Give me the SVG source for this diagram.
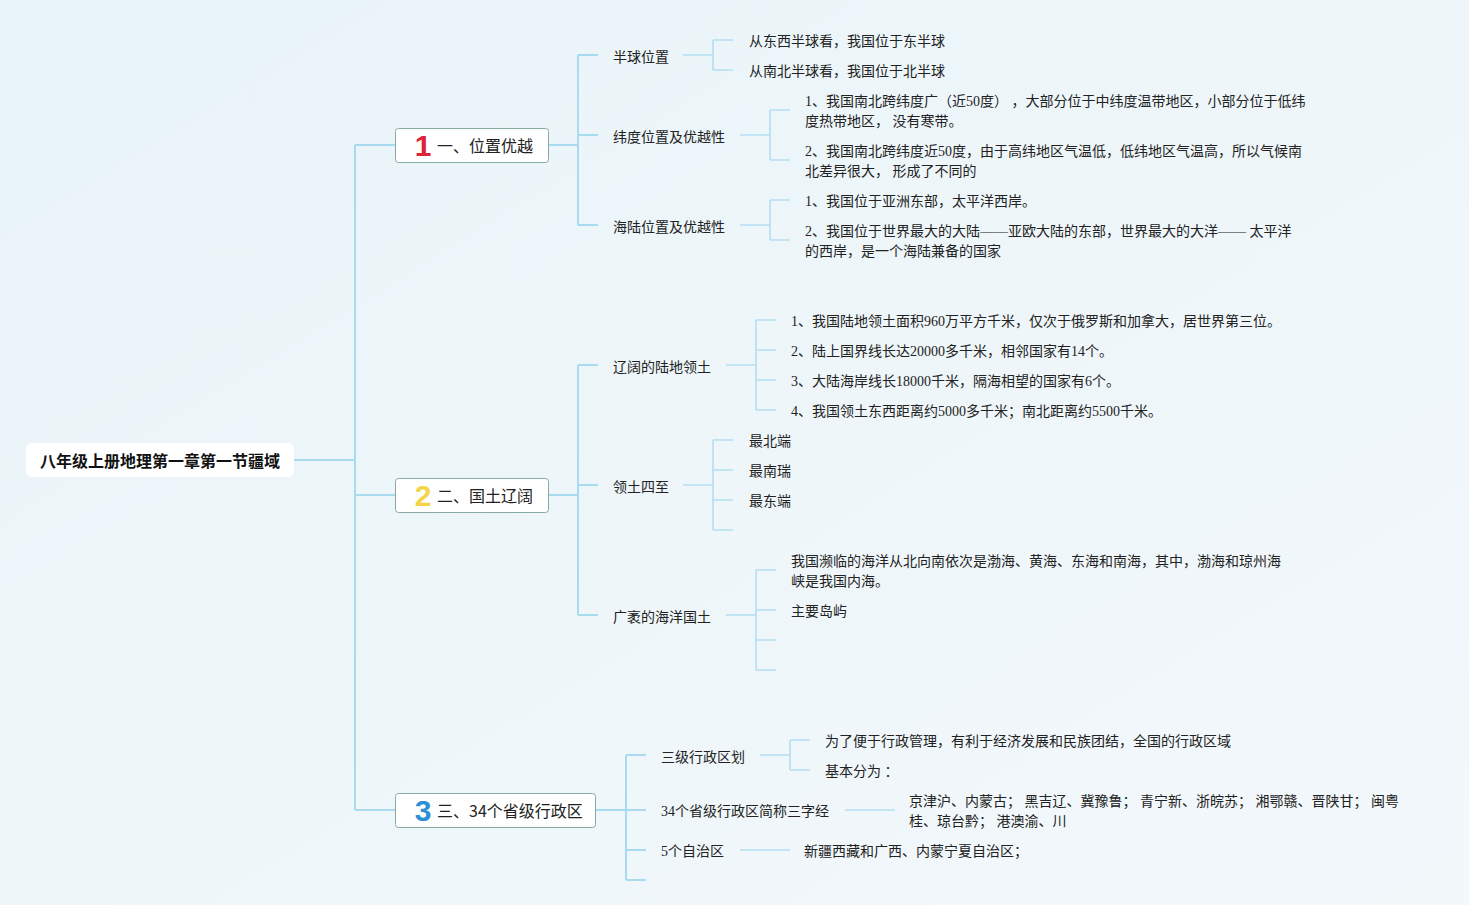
<svg xmlns="http://www.w3.org/2000/svg" width="1469" height="905" viewBox="0 0 1469 905">
<defs>
<linearGradient id="bg" x1="0" y1="0" x2="1" y2="1">
<stop offset="0" stop-color="#e9f4f8"/>
<stop offset="1" stop-color="#f3f8fb"/>
</linearGradient>
</defs>
<style>
.c{fill:none;stroke:#a8daf0;stroke-width:2}
.c2{fill:none;stroke:#b4def2;stroke-width:1.6}
.box{fill:#ffffff;stroke:#86aaa4;stroke-width:1}
.t{font-family:"Noto Sans CJK SC","Noto Sans",sans-serif;font-size:14px;fill:#222;dominant-baseline:central}
.l{font-family:"Liberation Serif","Noto Sans CJK SC",serif;font-size:14px;fill:#222;dominant-baseline:central}
.bt{font-family:"Noto Sans CJK SC","Noto Sans",sans-serif;font-size:16px;fill:#222;dominant-baseline:central}
.num{font-family:"Liberation Sans","Noto Sans",sans-serif;font-size:30px;font-weight:bold;dominant-baseline:central}
</style>
<rect width="1469" height="905" fill="url(#bg)"/>
<g id="connectors">
<path class="c" d="M294,460H355M355,145V810M355,145H395M355,495H395M355,810H395"/>
<path class="c" d="M548,145H578M578,55V225M578,55H598M578,135H598M578,225H598"/>
<path class="c2" d="M683,55H713M713,40V70M713,40H733M713,70H733"/>
<path class="c2" d="M740,135H770M770,110V160M770,110H790M770,160H790"/>
<path class="c2" d="M740,225H770M770,200V240M770,200H790M770,240H790"/>
<path class="c" d="M548,495H578M578,365V615M578,365H598M578,485H598M578,615H598"/>
<path class="c2" d="M726,365H756M756,320V410M756,320H776M756,350H776M756,380H776M756,410H776"/>
<path class="c2" d="M683,485H713M713,440V530M713,440H733M713,470H733M713,500H733M713,530H733"/>
<path class="c2" d="M726,615H756M756,570V670M756,570H776M756,610H776M756,640H776M756,670H776"/>
<path class="c" d="M596,810H626M626,755V880M626,755H646M626,810H646M626,850H646M626,880H646"/>
<path class="c2" d="M760,755H790M790,740V770M790,740H810M790,770H810"/>
<path class="c2" d="M845,810H895"/>
<path class="c2" d="M740,850H790"/>
</g>
<g id="root">
<rect x="26" y="443" width="268" height="34" rx="6" fill="#ffffff"/>
<text x="160" y="460" text-anchor="middle" font-family="Noto Sans CJK SC, sans-serif" font-size="16" font-weight="bold" fill="#111" dominant-baseline="central">八年级上册地理第一章第一节疆域</text>
</g>
<g id="n1">
<rect class="box" x="395.5" y="128.5" width="153" height="34" rx="3"/>
<text class="num" x="423" y="145" text-anchor="middle" fill="#d9243a">1</text>
<text class="bt" x="437" y="145">一、位置优越</text>
</g>
<g id="n1a"><text class="t" x="613" y="56">半球位置</text></g>
<g id="n1a1"><text class="l" x="749" y="41">从东西半球看，我国位于东半球</text></g>
<g id="n1a2"><text class="l" x="749" y="71">从南北半球看，我国位于北半球</text></g>
<g id="n1b"><text class="t" x="613" y="136">纬度位置及优越性</text></g>
<g id="n1b1"><text class="l" x="805" y="101" xml:space="preserve">1、我国南北跨纬度广（近50度） ，大部分位于中纬度温带地区，小部分位于低纬</text><text class="l" x="805" y="121">度热带地区， 没有寒带。</text></g>
<g id="n1b2"><text class="l" x="805" y="151">2、我国南北跨纬度近50度，由于高纬地区气温低，低纬地区气温高，所以气候南</text><text class="l" x="805" y="171">北差异很大， 形成了不同的</text></g>
<g id="n1c"><text class="t" x="613" y="226">海陆位置及优越性</text></g>
<g id="n1c1"><text class="l" x="805" y="201">1、我国位于亚洲东部，太平洋西岸。</text></g>
<g id="n1c2"><text class="l" x="805" y="231">2、我国位于世界最大的大陆——亚欧大陆的东部，世界最大的大洋—— 太平洋</text><text class="l" x="805" y="251">的西岸，是一个海陆兼备的国家</text></g>
<g id="n2">
<rect class="box" x="395.5" y="478.5" width="153" height="34" rx="3"/>
<text class="num" x="423" y="495" text-anchor="middle" fill="#f5d547">2</text>
<text class="bt" x="437" y="495">二、国土辽阔</text>
</g>
<g id="n2a"><text class="t" x="613" y="366">辽阔的陆地领土</text></g>
<g id="n2a1"><text class="l" x="791" y="321">1、我国陆地领土面积960万平方千米，仅次于俄罗斯和加拿大，居世界第三位。</text></g>
<g id="n2a2"><text class="l" x="791" y="351">2、陆上国界线长达20000多千米，相邻国家有14个。</text></g>
<g id="n2a3"><text class="l" x="791" y="381">3、大陆海岸线长18000千米，隔海相望的国家有6个。</text></g>
<g id="n2a4"><text class="l" x="791" y="411">4、我国领土东西距离约5000多千米；南北距离约5500千米。</text></g>
<g id="n2b"><text class="t" x="613" y="486">领土四至</text></g>
<g id="n2b1"><text class="l" x="749" y="441">最北端</text></g>
<g id="n2b2"><text class="l" x="749" y="471">最南瑞</text></g>
<g id="n2b3"><text class="l" x="749" y="501">最东端</text></g>
<g id="n2c"><text class="t" x="613" y="616">广袤的海洋国土</text></g>
<g id="n2c1"><text class="l" x="791" y="561">我国濒临的海洋从北向南依次是渤海、黄海、东海和南海，其中，渤海和琼州海</text><text class="l" x="791" y="581">峡是我国内海。</text></g>
<g id="n2c2"><text class="l" x="791" y="611">主要岛屿</text></g>
<g id="n3">
<rect class="box" x="395.5" y="793.5" width="200" height="34" rx="3"/>
<text class="num" x="423" y="810" text-anchor="middle" fill="#2b90d6">3</text>
<text class="bt" x="437" y="810">三、34个省级行政区</text>
</g>
<g id="n3a"><text class="t" x="661" y="756">三级行政区划</text></g>
<g id="n3a1"><text class="l" x="825" y="741">为了便于行政管理，有利于经济发展和民族团结，全国的行政区域</text></g>
<g id="n3a2"><text class="l" x="825" y="771" xml:space="preserve">基本分为 ：</text></g>
<g id="n3b"><text class="l" x="661" y="811">34个省级行政区简称三字经</text></g>
<g id="n3b1"><text class="l" x="909" y="801" xml:space="preserve">京津沪、内蒙古； 黑吉辽、冀豫鲁； 青宁新、浙皖苏； 湘鄂赣、晋陕甘； 闽粤</text><text class="l" x="909" y="821" xml:space="preserve">桂、琼台黔； 港澳渝、川</text></g>
<g id="n3c"><text class="l" x="661" y="851">5个自治区</text></g>
<g id="n3c1"><text class="l" x="804" y="851">新疆西藏和广西、内蒙宁夏自治区；</text></g>
</svg>
